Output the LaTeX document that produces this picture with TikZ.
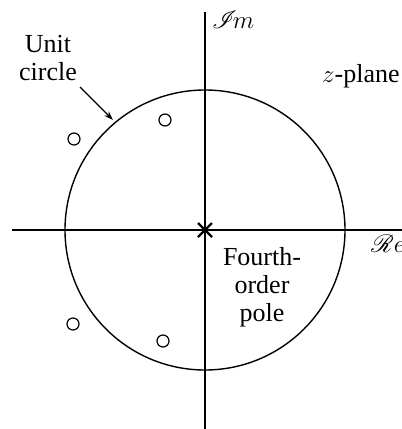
\documentclass[tikz,border=0pt]{standalone}
\usepackage{fontspec}
\setmainfont{Liberation Serif}
\usepackage{mathrsfs}
\usetikzlibrary{arrows.meta}
\begin{document}
\begin{tikzpicture}[x=1pt,y=-1pt,
  axis/.style={line width=1.8pt},
  ucircle/.style={line width=1.4pt},
  zero/.style={circle,draw,line width=1.2pt,minimum size=12pt,inner sep=0pt},
  lbl/.style={font=\fontsize{26}{28}\selectfont,inner sep=0pt,align=center},
  polemark/.style={line width=2.4pt}]
\useasboundingbox (0,0) rectangle (402,429);
\coordinate (O) at (205,230);
\coordinate (xl) at (12,230);
\coordinate (xr) at (402,230);
\coordinate (yt) at (205,12);
\coordinate (yb) at (205,429);
\draw[axis] (xl) -- (xr);
\draw[axis] (yt) -- (yb);
\draw[ucircle] (O) circle[radius=140];
% pole
\coordinate (p1) at (198,223);
\coordinate (p2) at (212,237);
\coordinate (p3) at (198,237);
\coordinate (p4) at (212,223);
\draw[polemark] (p1) -- (p2);
\draw[polemark] (p3) -- (p4);
% zeros
\node[zero] (z1) at (165,120) {};
\node[zero] (z2) at (74,139) {};
\node[zero] (z3) at (163,341) {};
\node[zero] (z4) at (73,324) {};
% labels
\node[lbl,anchor=base] (unit) at (48,80) {Unit\\circle};
\node[lbl,anchor=base west] (im) at (212,28) {$\mathscr{I}\!m$};
\node[lbl,anchor=base west] (zp) at (322,82) {$z$-plane};
\node[lbl,anchor=base west] (re) at (371,252) {$\mathscr{R}e$};
\node[lbl,anchor=north] (four) at (262,247) {Fourth-\\order\\pole};
\coordinate (ta) at (80,87);
\coordinate (tb) at (113,120);
\draw[line width=1.3pt,-{Stealth[length=9pt,width=6pt]}] (ta) -- (tb);
\end{tikzpicture}
\end{document}
